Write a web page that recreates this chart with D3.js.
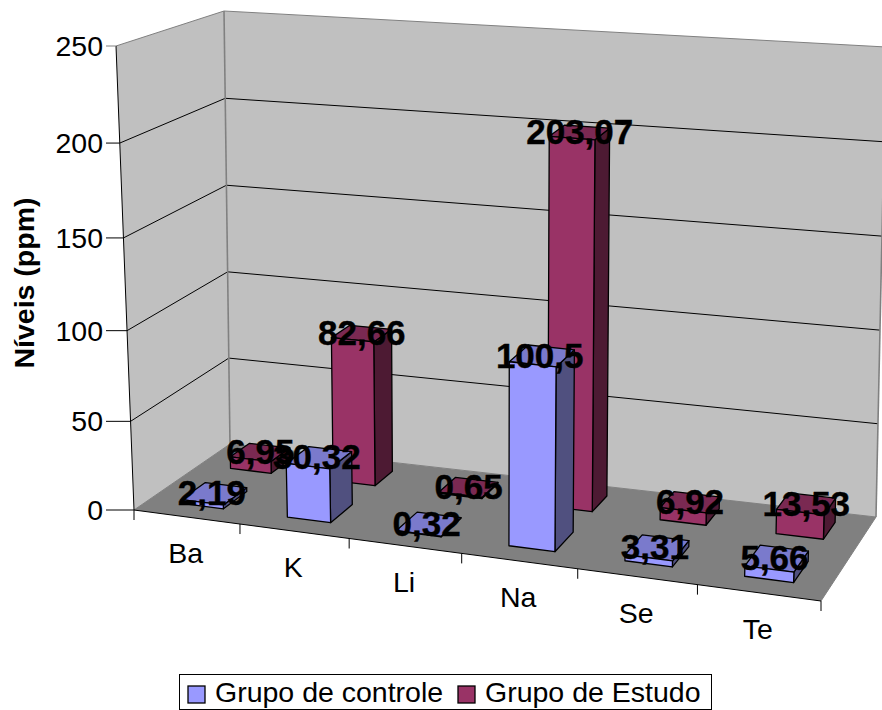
<!DOCTYPE html>
<html><head><meta charset="utf-8">
<script src="https://cdn.jsdelivr.net/npm/d3@7/dist/d3.min.js"></script>
<style>html,body{margin:0;padding:0;background:#fff}svg{display:block}text{font-family:"Liberation Sans",Arial,sans-serif;fill:#000}</style>
</head><body><div id="chart"></div>
<script>
const categories = ["Ba","K","Li","Na","Se","Te"];
const seriesNames = ["Grupo de controle","Grupo de Estudo"];
const controlValues = [2.19,30.32,0.32,100.5,3.31,5.66];
const studyValues = [6.95,82.66,0.65,203.07,6.92,13.53];
const valueTicks = [0,50,100,150,200,250];
const axisTitle = "Níveis (ppm)";
const faceColors = [
  {front:"#9999ff",top:"#7a7acc",side:"#50507f"},
  {front:"#993366",top:"#7a2952",side:"#4d1a33"}
];

const W=882,H=710;
const svg=d3.select("#chart").append("svg").attr("width",W).attr("height",H);

// Frame of the perspective box
const FLb=[134,510],FRb=[821,601],BLb=[230,444],BRb=[876,517];
const FLt=[116,46],FRt=[838,111],BLt=[224,11],BRt=[886,47];
const warp=(t,k)=>t*k/(1+t*(k-1));
const uScale=d3.scaleBand().domain(categories).range([0.001,1.001]).paddingInner(0.6).paddingOuter(0.3);
const uStep=d3.scaleLinear().domain([0,categories.length]).range([0,1]);
const vScale=d3.scaleBand().domain(seriesNames).range([0,1]).paddingInner(0.54).paddingOuter(0.27);
const wScale=d3.scaleLinear().domain([0,250]).range([0,1]);
const mix=(a,b,t)=>[a[0]+(b[0]-a[0])*t,a[1]+(b[1]-a[1])*t];
function project(u,v,w){
  const uu=warp(u,0.912),vv=warp(v,1.25),ww=warp(w,v>=1?0.99:0.945);
  const bot=mix(mix(FLb,FRb,uu),mix(BLb,BRb,uu),vv);
  const top=mix(mix(FLt,FRt,uu),mix(BLt,BRt,uu),vv);
  return mix(bot,top,ww);
}
const poly=(pts,fill,stroke,sw)=>svg.append("polygon").attr("points",pts.map(p=>p.join(",")).join(" "))
  .attr("fill",fill).attr("stroke",stroke||"none").attr("stroke-width",sw||1).attr("stroke-linejoin","round");
const seg=(a,b,stroke,sw)=>svg.append("line").attr("x1",a[0]).attr("y1",a[1]).attr("x2",b[0]).attr("y2",b[1])
  .attr("stroke",stroke).attr("stroke-width",sw||1);

poly([project(0,0,0),project(0,1,0),project(0,1,1),project(0,0,1)],"#c0c0c0");
poly([project(0,1,0),project(1,1,0),project(1,1,1),project(0,1,1)],"#c0c0c0");
poly([project(0,0,0),project(1,0,0),project(1,1,0),project(0,1,0)],"#808080");
valueTicks.forEach(t=>{
  const w=wScale(t), edge=(t===0||t===250);
  const c=edge?"#808080":"#000";
  seg(project(0,0,w),project(0,1,w),c,1);
  seg(project(0,1,w),project(1,1,w),c,1);
});
seg(project(0,1,0),project(0,1,1),"#808080",1.6);
seg(project(1,1,0),project(1,1,1),"#808080",1.6);
seg(project(1,1,0),project(1,0,0),"#808080",1);

seg(project(0,0,0),project(0,0,1),"#000",1);
seg(project(0,0,0),project(1,0,0),"#000",1);
valueTicks.forEach(t=>{
  const p=project(0,0,wScale(t));
  seg([106,p[1]],p,t===250?"#808080":"#000",1);
  svg.append("text").attr("x",103).attr("y",p[1]+10).attr("text-anchor","end").attr("font-size",28.5).text(t);
});
categories.forEach((c,i)=>{
  const p=project(uStep(i),0,0);
  seg(p,[p[0],p[1]+10],"#000",1);
  const m=project(uStep(i+0.5),0,0);
  svg.append("text").attr("x",m[0]-1).attr("y",m[1]+46).attr("text-anchor","middle").attr("font-size",28.5).text(c);
});
const pEnd=project(1,0,0);
seg(pEnd,[pEnd[0],pEnd[1]+10],"#000",1);

[1,0].forEach(si=>{
  const vals=si===0?controlValues:studyValues;
  const name=seriesNames[si],col=faceColors[si];
  const v0=vScale(name),v1=v0+vScale.bandwidth();
  categories.forEach((c,i)=>{
    const u0=uScale(c),u1=u0+uScale.bandwidth(),w=wScale(vals[i]);
    poly([project(u1,v0,0),project(u1,v1,0),project(u1,v1,w),project(u1,v0,w)],col.side,"#000",1.3);
    poly([project(u0,v0,w),project(u1,v0,w),project(u1,v1,w),project(u0,v1,w)],col.top,"#000",1.3);
    poly([project(u0,v0,0),project(u1,v0,0),project(u1,v0,w),project(u0,v0,w)],col.front,"#000",1.3);
  });
});
[1,0].forEach(si=>{
  const vals=si===0?controlValues:studyValues,name=seriesNames[si];
  const vm=vScale(name)+vScale.bandwidth()/2;
  const dx=si===0?-2.5:0;
  categories.forEach((c,i)=>{
    const um=uScale(c)+uScale.bandwidth()/2;
    const p=project(um,vm,wScale(vals[i]));
    svg.append("text").attr("x",p[0]+dx).attr("y",p[1]+12).attr("text-anchor","middle")
      .attr("font-size",35).attr("font-weight","bold").attr("stroke","#000").attr("stroke-width",0.4)
      .text(String(vals[i]).replace(".",","));
  });
});
svg.append("text").attr("transform","translate(34,283) rotate(-90)").attr("text-anchor","middle")
  .attr("font-size",28.5).attr("font-weight","bold").text(axisTitle);
svg.append("rect").attr("x",179.5).attr("y",674.5).attr("width",532).attr("height",35).attr("fill","#fff").attr("stroke","#000").attr("stroke-width",1);
[[188,215],[458,485]].forEach((pos,i)=>{
  svg.append("rect").attr("x",pos[0]).attr("y",686).attr("width",17).attr("height",17).attr("fill",faceColors[i].front).attr("stroke","#000").attr("stroke-width",1.3);
  svg.append("text").attr("x",pos[1]).attr("y",702).attr("font-size",28.5).text(seriesNames[i]);
});
</script></body></html>
